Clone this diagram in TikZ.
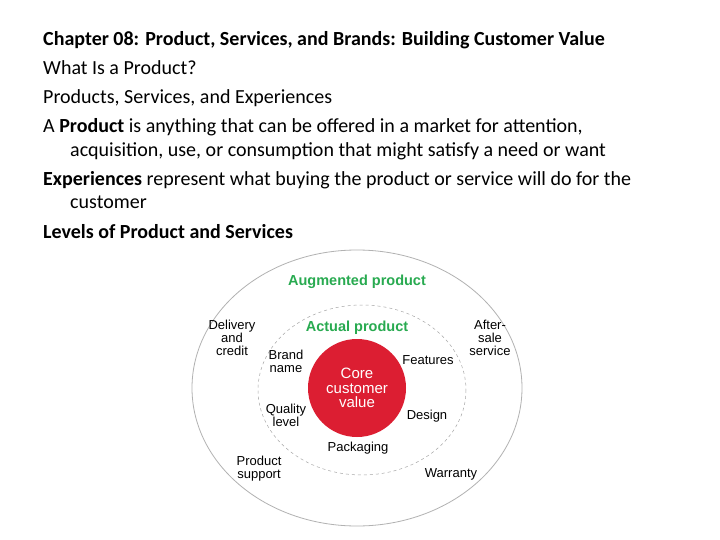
\documentclass[tikz,border=0pt]{standalone}
\usepackage{fontspec}
\setmainfont{Carlito}
\newfontfamily\arial{Liberation Sans}
\definecolor{grn}{RGB}{40,170,80}
\definecolor{cred}{RGB}{220,30,50}
\begin{document}
\begin{tikzpicture}[x=1pt,y=-1pt,
  hd/.style={anchor=base west,font=\fontsize{20}{24}\selectfont,inner sep=0},
  lb/.style={font=\arial\fontsize{13}{13}\selectfont,align=center,inner sep=0},
  gl/.style={font=\arial\bfseries\fontsize{14.5}{17}\selectfont,text=grn,inner sep=0}]
\useasboundingbox (0,0) rectangle (720,540);
\fill[white] (0,0) rectangle (720,540);
\node[hd] (t1) at (43,46) {\textbf{Chapter 08: Product, Services, and Brands:  Building Customer Value}};
\node[hd] (t2) at (43,75) {What Is a Product?};
\node[hd] (t3) at (43,104) {Products, Services, and Experiences};
\node[hd] (t4) at (43,133) {A \textbf{Product} is anything that can be offered in a market for attention,};
\node[hd] (t5) at (70,157) {acquisition, use, or consumption that might satisfy a need or want};
\node[hd] (t6) at (43,186) {\textbf{Experiences} represent what buying the product or service will do for the};
\node[hd] (t7) at (70,209) {customer};
\node[hd] (t8) at (43,238) {\textbf{Levels of Product and Services}};
\draw[gray!60,line width=0.8pt] (357,388) ellipse [x radius=165,y radius=138];
\draw[gray!70,dashed,line width=0.5pt] (362,390) ellipse [x radius=104,y radius=85];
\fill[cred] (357,388) circle (49);
\node[font=\arial\fontsize{15}{14.5}\selectfont,text=white,align=center] (core) at (357,388) {Core\\customer\\value};
\node[gl] (aug) at (357,282) {Augmented product};
\node[gl] (act) at (357,328) {Actual product};
\node[lb] (d) at (232,338) {Delivery\\and\\credit};
\node[lb] (a) at (490,338) {After-\\sale\\service};
\node[lb] (b) at (286,361) {Brand\\name};
\node[lb] (f) at (428,360) {Features};
\node[lb] (q) at (286,415) {Quality\\level};
\node[lb] (de) at (427,416) {Design};
\node[lb] (p) at (358,448) {Packaging};
\node[lb] (ps) at (259,469) {Product\\support};
\node[lb] (w) at (451,474) {Warranty};
\end{tikzpicture}
\end{document}
